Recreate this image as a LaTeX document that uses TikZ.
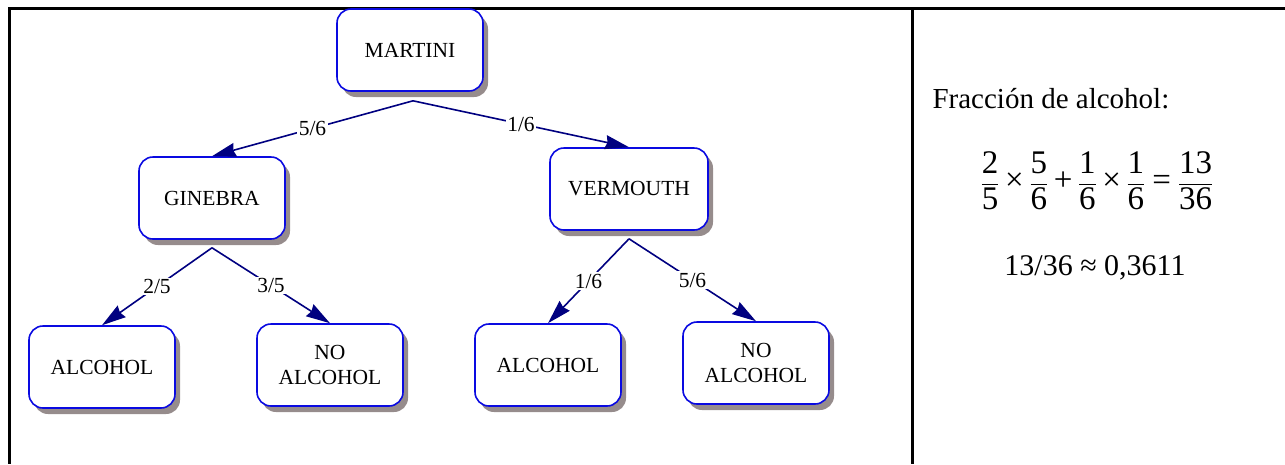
\documentclass[tikz,border=0pt]{standalone}
\usepackage{amsmath}
\usepackage{fontspec}
\setmainfont{Liberation Serif}
\usetikzlibrary{arrows.meta,shadows}
\definecolor{boxblue}{RGB}{10,10,225}
\definecolor{navyline}{RGB}{0,0,128}
\definecolor{shadowgray}{RGB}{150,140,140}
\newcommand{\opx}{\mathbin{\text{×}}}
\newcommand{\opplus}{\mathbin{\text{+}}}
\newcommand{\opeq}{\mathrel{\text{=}}}
\newcommand{\fr}[2]{\dfrac{\text{#1}}{\text{#2}}}
\begin{document}
\begin{tikzpicture}[x=1pt,y=-1pt,
  box/.style={draw=boxblue, line width=1.6pt, rounded corners=14pt, fill=white,
    minimum width=146pt, minimum height=82pt, align=center, inner sep=0pt,
    font=\fontsize{21.5}{25}\selectfont,
    drop shadow={shadow xshift=5pt, shadow yshift=-6pt, fill=shadowgray, opacity=1}},
  edge/.style={draw=navyline, line width=1.6pt, -{Stealth[length=24pt,width=14pt,inset=2pt]}},
  lbl/.style={fill=white, inner sep=1.5pt, font=\fontsize{21.5}{24}\selectfont},
  frame/.style={line width=3pt, black},
  bigtext/.style={font=\fontsize{30}{35}\selectfont}]
\useasboundingbox (0,0) rectangle (1285,464);

% frame
\draw[frame] (8,8.5) -- (1285,8.5);
\draw[frame] (9.5,7) -- (9.5,464);
\draw[frame] (912.5,7) -- (912.5,464);

% nodes
\node[box] (martini) at (410,50) {MARTINI};
\node[box] (ginebra) at (212,198) {GINEBRA};
\node[box, minimum width=158pt] (vermouth) at (629,189) {VERMOUTH};
\node[box] (alc1) at (102,367) {ALCOHOL};
\node[box] (noalc1) at (330,365) {NO\\ALCOHOL};
\node[box] (alc2) at (548,365) {ALCOHOL};
\node[box] (noalc2) at (756,363) {NO\\ALCOHOL};

% branch points
\coordinate (bm) at ([xshift=3pt,yshift=-9pt]martini.south);
\coordinate (bg) at ([yshift=-8pt]ginebra.south);
\coordinate (bv) at ([yshift=-8pt]vermouth.south);

% edges
\draw[edge] (bm) -- node[lbl] {5/6} (ginebra.north);
\draw[edge] (bm) -- node[lbl] {1/6} (vermouth.north);
\draw[edge] (bg) -- node[lbl] {2/5} (alc1.north);
\draw[edge] (bg) -- node[lbl] {3/5} (noalc1.north);
\draw[edge] (bv) -- node[lbl] {1/6} (alc2.north);
\draw[edge] (bv) -- node[lbl] {5/6} (noalc2.north);

% right panel
\node[font=\fontsize{29}{34}\selectfont, anchor=base west] (title) at (929,108) {Fracción de alcohol:};
\node[font=\fontsize{33}{38}\selectfont] (formula) at (1097,181)
  {$\fr{2}{5}\opx\fr{5}{6}\opplus\fr{1}{6}\opx\fr{1}{6}\opeq\fr{13}{36}$};
\node[bigtext, anchor=base] (result) at (1095,275) {13/36 ≈ 0,3611};
\end{tikzpicture}
\end{document}
